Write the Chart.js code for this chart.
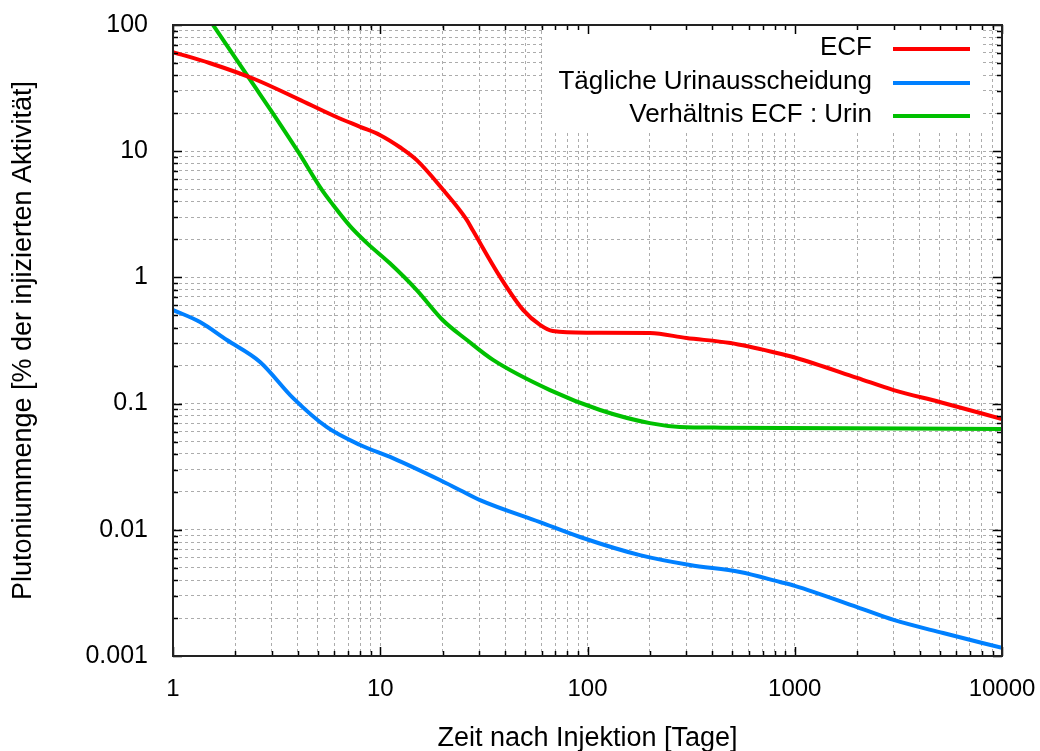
<!DOCTYPE html>
<html>
<head>
<meta charset="utf-8">
<script src="https://cdn.jsdelivr.net/npm/chart.js@4/dist/chart.umd.min.js"></script>
<style>
  body { margin: 0; background: #fff; }
  #wrap { width: 1040px; height: 751px; }
</style>
</head>
<body>
<div id="wrap"><canvas id="plot"></canvas></div>
<script>
// Werte (Tage / % der injizierten Aktivität)
const ecfDays   = [1, 1.5, 2.5, 4, 6, 8, 10, 12.5, 15, 20, 26, 28, 38, 49, 59, 68, 100, 200, 300, 490, 820, 1000, 2000, 3000, 5000, 10000];
const ecfValues = [61, 50, 37, 26, 19, 15.6, 13.4, 10.7, 8.5, 5.0, 2.9, 2.35, 1.0, 0.55, 0.42, 0.376, 0.365, 0.363, 0.331, 0.302, 0.252, 0.232, 0.16, 0.128, 0.103, 0.0755];

const urinDays   = [1, 1.35, 1.82, 2.63, 3.79, 5.53, 8, 11.5, 19.4, 24.3, 30.3, 59, 92, 179, 312, 544, 849, 1000, 2000, 3000, 5200, 10000];
const urinValues = [0.552, 0.443, 0.319, 0.214, 0.111, 0.065, 0.047, 0.037, 0.0248, 0.0206, 0.0172, 0.0115, 0.00877, 0.0063, 0.00526, 0.00463, 0.00386, 0.0036, 0.00244, 0.00193, 0.00152, 0.00116];

const ratioDays   = [1.56, 2.35, 3.2, 4, 5.23, 5.92, 7.15, 8.63, 11.1, 15, 20, 26.2, 35, 65.9, 115, 200, 279, 446, 10000];
const ratioValues = [100, 37, 17.5, 10, 4.93, 3.75, 2.55, 1.87, 1.3, 0.794, 0.46, 0.319, 0.222, 0.128, 0.089, 0.070, 0.0653, 0.0645, 0.063];

const xTicks = [];
for (let d = 1; d < 10000; d *= 10) for (let m = 1; m < 10; m++) xTicks.push(m * d);
xTicks.push(10000);
const xMajor = [1, 10, 100, 1000, 10000];

const yTicks = [];
for (let d = 0.001; d < 99; d *= 10) for (let m = 1; m < 10; m++) yTicks.push(+(m * d).toPrecision(3));
yTicks.push(100);
const yMajor = [0.001, 0.01, 0.1, 1, 10, 100];
const yMajorLabels = ['0.001', '0.01', '0.1', '1', '10', '100'];

const seriesLabels = ['ECF', 'Tägliche Urinausscheidung', 'Verhältnis ECF : Urin'];
const seriesColors = ['#ff0000', '#0080ff', '#00c000'];

const toPoints = (xs, ys) => xs.map((x, i) => ({ x, y: ys[i] }));
const FONT = 'Liberation Sans, Arial, sans-serif';

// Legende oben rechts im Diagramm (weißer Kasten, Text rechtsbündig, Linie rechts)
const innerLegend = {
  id: 'innerLegend',
  beforeDatasetsDraw(chart) {
    const ctx = chart.ctx;
    ctx.save();
    ctx.fillStyle = '#fff';
    ctx.fillRect(545, 26, 438, 104);
    ctx.font = '26px ' + FONT;
    ctx.textAlign = 'right';
    ctx.textBaseline = 'middle';
    const rows = [48, 82, 115];
    chart.data.datasets.forEach((ds, i) => {
      ctx.fillStyle = '#000';
      ctx.fillText(ds.label, 872, rows[i]);
      ctx.strokeStyle = ds.borderColor;
      ctx.lineWidth = 4;
      ctx.beginPath();
      ctx.moveTo(893, rows[i] + 1);
      ctx.lineTo(970, rows[i] + 1);
      ctx.stroke();
    });
    ctx.restore();
  }
};

// Rahmen und nach innen zeigende Ticks wie bei gnuplot
const frameTicks = {
  id: 'frameTicks',
  afterDatasetsDraw(chart) {
    const { ctx, chartArea: a, scales: { x, y } } = chart;
    ctx.save();
    ctx.strokeStyle = '#000';
    ctx.lineWidth = 1.5;
    ctx.beginPath();
    xTicks.forEach(v => {
      const px = Math.round(x.getPixelForValue(v)) + 0.5;
      const len = xMajor.includes(v) ? 9 : 5;
      ctx.moveTo(px, a.bottom); ctx.lineTo(px, a.bottom - len);
      ctx.moveTo(px, a.top); ctx.lineTo(px, a.top + len);
    });
    yTicks.forEach(v => {
      const py = Math.round(y.getPixelForValue(v)) + 0.5;
      const len = yMajor.includes(v) ? 9 : 5;
      ctx.moveTo(a.left, py); ctx.lineTo(a.left + len, py);
      ctx.moveTo(a.right, py); ctx.lineTo(a.right - len, py);
    });
    ctx.stroke();
    ctx.lineWidth = 2;
    ctx.strokeStyle = '#222';
    ctx.strokeRect(a.left, a.top, a.right - a.left, a.bottom - a.top);
    ctx.restore();
  }
};

new Chart(document.getElementById('plot'), {
  type: 'line',
  data: {
    datasets: [
      { label: seriesLabels[0], data: toPoints(ecfDays, ecfValues), borderColor: seriesColors[0] },
      { label: seriesLabels[1], data: toPoints(urinDays, urinValues), borderColor: seriesColors[1] },
      { label: seriesLabels[2], data: toPoints(ratioDays, ratioValues), borderColor: seriesColors[2] }
    ]
  },
  options: {
    responsive: true,
    maintainAspectRatio: false,
    animation: false,
    layout: { padding: { left: 0, right: 38, top: 25, bottom: 0 } },
    elements: {
      line: { borderWidth: 4, cubicInterpolationMode: 'monotone', fill: false },
      point: { radius: 0, hoverRadius: 0 }
    },
    plugins: { legend: { display: false }, tooltip: { enabled: false } },
    scales: {
      x: {
        type: 'logarithmic',
        min: 1, max: 10000,
        afterBuildTicks: s => { s.ticks = xTicks.map(v => ({ value: v })); },
        afterFit: s => { s.height = 95; s.paddingLeft = 0; s.paddingRight = 0; },
        ticks: {
          autoSkip: false, maxRotation: 0, padding: 19, color: '#000',
          font: { family: FONT, size: 24 },
          callback: v => (xMajor.includes(v) ? String(v) : '')
        },
        grid: { color: '#acacac', lineWidth: 1, drawTicks: false },
        border: { display: false, dash: [3, 3] },
        title: {
          display: true, text: 'Zeit nach Injektion [Tage]', color: '#000',
          font: { family: FONT, size: 27 }, padding: { top: 0, bottom: -4 }
        }
      },
      y: {
        type: 'logarithmic',
        min: 0.001, max: 100,
        afterBuildTicks: s => { s.ticks = yTicks.map(v => ({ value: v })); },
        afterFit: s => { s.width = 173; s.paddingTop = 0; s.paddingBottom = 0; },
        ticks: {
          autoSkip: false, padding: 25, color: '#000',
          font: { family: FONT, size: 25 },
          callback: v => { const i = yMajor.indexOf(v); return i >= 0 ? yMajorLabels[i] : ''; }
        },
        grid: { color: '#acacac', lineWidth: 1, drawTicks: false },
        border: { display: false, dash: [3, 3] },
        title: {
          display: true, text: 'Plutoniummenge [% der injizierten Aktivität]', color: '#000',
          font: { family: FONT, size: 27 }, padding: { top: 7, bottom: 0 }
        }
      }
    }
  },
  plugins: [innerLegend, frameTicks]
});
</script>
</body>
</html>
